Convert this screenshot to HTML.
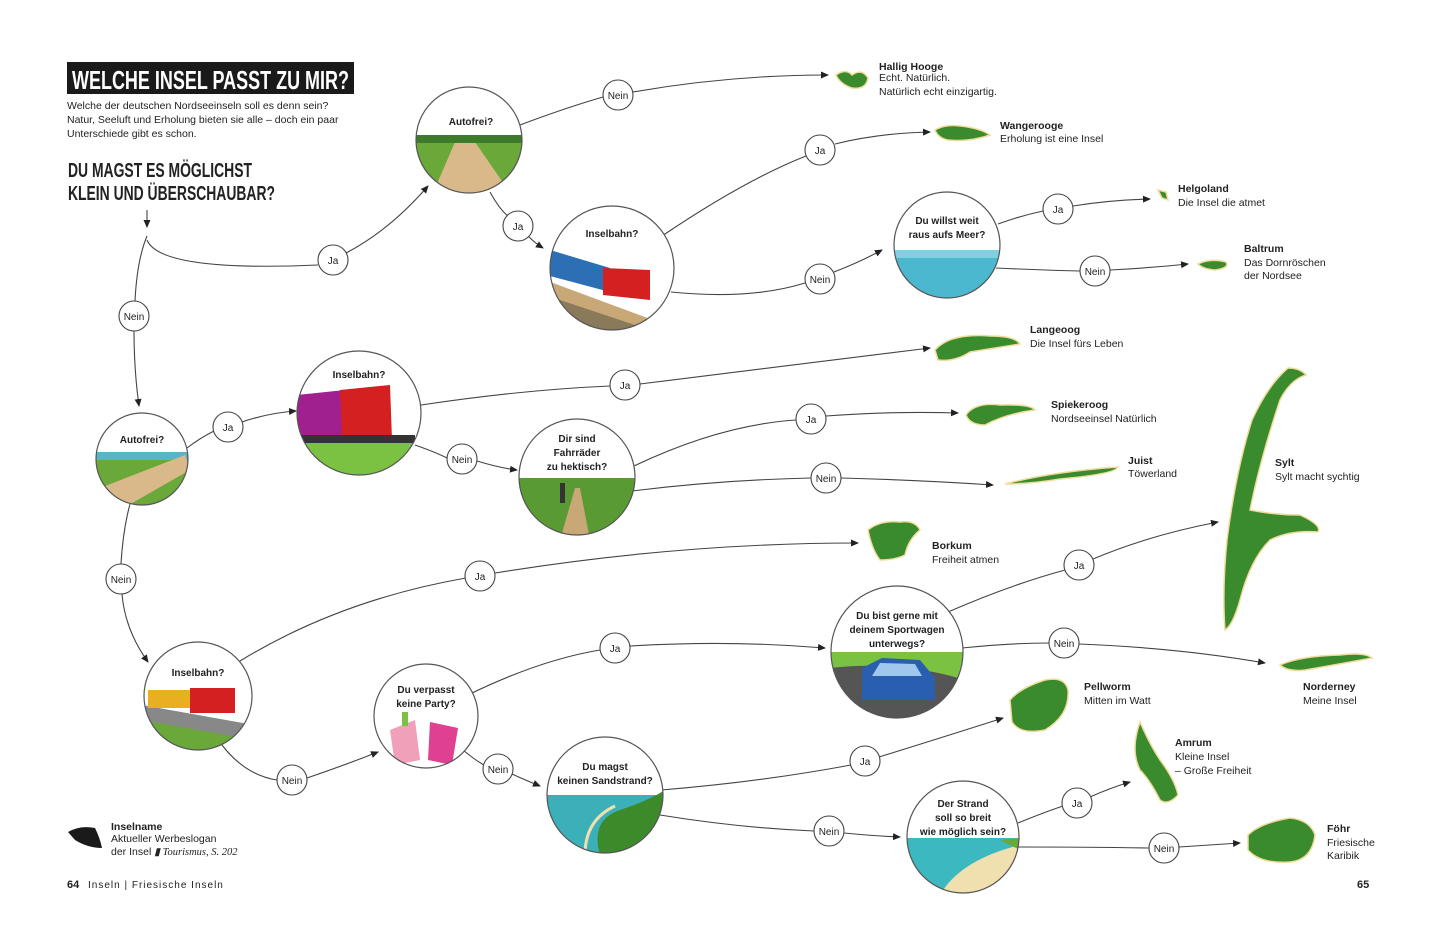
<!DOCTYPE html>
<html><head><meta charset="utf-8"><style>
html,body{margin:0;padding:0;background:#fff}
svg{display:block}
text{font-family:"Liberation Sans",sans-serif;fill:#222}
.t{font-size:10.5px}
.b{font-weight:bold}
.q{font-size:10px;font-weight:bold;text-anchor:middle}
.lbl{font-size:10px;text-anchor:middle}
.ln{fill:none;stroke:#444;stroke-width:1.1}
.lc{fill:#fff;stroke:#444;stroke-width:1.1}
.nc{stroke:#555;stroke-width:1.2}
</style></head><body>
<svg width="1440" height="925" viewBox="0 0 1440 925" xmlns="http://www.w3.org/2000/svg">
<defs>
<marker id="a" markerWidth="8" markerHeight="8" refX="7" refY="4" orient="auto" markerUnits="userSpaceOnUse"><path d="M0,0.5 L8,4 L0,7.5 z" fill="#222"/></marker>
<clipPath id="c1"><circle cx="469" cy="140" r="53"/></clipPath>
<clipPath id="c2"><circle cx="612" cy="268" r="62"/></clipPath>
<clipPath id="c3"><circle cx="947" cy="245" r="53"/></clipPath>
<clipPath id="c4"><circle cx="359" cy="413" r="62"/></clipPath>
<clipPath id="c5"><circle cx="142" cy="459" r="46"/></clipPath>
<clipPath id="c6"><circle cx="577" cy="477" r="58"/></clipPath>
<clipPath id="c7"><circle cx="198" cy="696" r="54"/></clipPath>
<clipPath id="c8"><circle cx="426" cy="716" r="52"/></clipPath>
<clipPath id="c9"><circle cx="897" cy="652" r="66"/></clipPath>
<clipPath id="c10"><circle cx="605" cy="795" r="58"/></clipPath>
<clipPath id="c11"><circle cx="963" cy="837" r="56"/></clipPath>
</defs>
<rect width="1440" height="925" fill="#fff"/>

<!-- Title -->
<rect x="67" y="62" width="287" height="32" fill="#1a1a1a"/>
<text x="72" y="89" style="font-size:26px;font-weight:bold;fill:#fff" textLength="277" lengthAdjust="spacingAndGlyphs">WELCHE INSEL PASST ZU MIR?</text>
<text class="t" x="67" y="109">Welche der deutschen Nordseeinseln soll es denn sein?</text>
<text class="t" x="67" y="123">Natur, Seeluft und Erholung bieten sie alle – doch ein paar</text>
<text class="t" x="67" y="137">Unterschiede gibt es schon.</text>
<text x="68" y="177" style="font-size:20px;font-weight:bold" textLength="184" lengthAdjust="spacingAndGlyphs">DU MAGST ES MÖGLICHST</text>
<text x="68" y="200" style="font-size:20px;font-weight:bold" textLength="207" lengthAdjust="spacingAndGlyphs">KLEIN UND ÜBERSCHAUBAR?</text>

<!-- connectors -->
<g class="ln">
<path d="M147,210 L147,227" marker-end="url(#a)"/>
<path d="M147,236 Q137,260 135,301"/>
<path d="M134,331 Q134,370 139,406" marker-end="url(#a)"/>
<path d="M147,240 Q160,272 318,265"/>
<path d="M346,253 Q390,230 428,186" marker-end="url(#a)"/>
<path d="M520,125 Q565,108 603,97"/>
<path d="M633,92 Q730,75 828,75" marker-end="url(#a)"/>
<path d="M490,192 Q500,210 508,216"/>
<path d="M528,236 Q535,243 543,248" marker-end="url(#a)"/>
<path d="M662,236 Q745,180 806,156"/>
<path d="M835,144 Q880,133 930,132" marker-end="url(#a)"/>
<path d="M671,292 Q750,300 805,283"/>
<path d="M834,272 Q860,262 882,250" marker-end="url(#a)"/>
<path d="M998,224 Q1020,216 1043,211"/>
<path d="M1073,206 Q1110,200 1150,199" marker-end="url(#a)"/>
<path d="M996,268 Q1040,270 1080,271"/>
<path d="M1110,270 Q1150,268 1188,264" marker-end="url(#a)"/>
<path d="M187,448 Q200,438 214,431"/>
<path d="M242,422 Q268,413 296,411" marker-end="url(#a)"/>
<path d="M421,405 Q520,390 610,386"/>
<path d="M640,384 Q790,365 930,348" marker-end="url(#a)"/>
<path d="M415,445 Q435,452 447,458"/>
<path d="M477,461 Q500,468 517,470" marker-end="url(#a)"/>
<path d="M634,466 Q720,425 796,420"/>
<path d="M826,416 Q890,411 958,413" marker-end="url(#a)"/>
<path d="M632,491 Q720,480 811,478"/>
<path d="M841,478 Q920,480 993,485" marker-end="url(#a)"/>
<path d="M130,504 Q123,530 121,564"/>
<path d="M122,594 Q125,630 148,662" marker-end="url(#a)"/>
<path d="M240,661 Q340,600 466,578"/>
<path d="M495,573 Q680,543 858,543" marker-end="url(#a)"/>
<path d="M222,745 Q245,775 277,780"/>
<path d="M307,778 Q345,765 378,752" marker-end="url(#a)"/>
<path d="M470,694 Q540,660 600,650"/>
<path d="M630,646 Q730,640 825,648" marker-end="url(#a)"/>
<path d="M463,750 Q475,760 484,765"/>
<path d="M512,774 Q525,780 540,786" marker-end="url(#a)"/>
<path d="M948,612 Q1010,585 1065,570"/>
<path d="M1093,559 Q1150,535 1218,522" marker-end="url(#a)"/>
<path d="M962,648 Q1010,643 1049,643"/>
<path d="M1079,644 Q1180,648 1265,663" marker-end="url(#a)"/>
<path d="M661,790 Q760,782 851,765"/>
<path d="M879,757 Q950,735 1003,718" marker-end="url(#a)"/>
<path d="M660,815 Q740,828 814,831"/>
<path d="M844,833 Q875,836 900,837" marker-end="url(#a)"/>
<path d="M1018,823 Q1045,812 1063,806"/>
<path d="M1090,797 Q1110,788 1130,782" marker-end="url(#a)"/>
<path d="M1018,847 Q1090,847 1149,848"/>
<path d="M1179,847 Q1210,845 1240,843" marker-end="url(#a)"/>
</g>

<!-- label circles -->
<g>
<circle class="lc" cx="618" cy="95" r="15"/><text class="lbl" x="618" y="99">Nein</text>
<circle class="lc" cx="820" cy="150" r="15"/><text class="lbl" x="820" y="154">Ja</text>
<circle class="lc" cx="518" cy="226" r="15"/><text class="lbl" x="518" y="230">Ja</text>
<circle class="lc" cx="333" cy="260" r="15"/><text class="lbl" x="333" y="264">Ja</text>
<circle class="lc" cx="134" cy="316" r="15"/><text class="lbl" x="134" y="320">Nein</text>
<circle class="lc" cx="1058" cy="209" r="15"/><text class="lbl" x="1058" y="213">Ja</text>
<circle class="lc" cx="820" cy="279" r="15"/><text class="lbl" x="820" y="283">Nein</text>
<circle class="lc" cx="1095" cy="271" r="15"/><text class="lbl" x="1095" y="275">Nein</text>
<circle class="lc" cx="625" cy="385" r="15"/><text class="lbl" x="625" y="389">Ja</text>
<circle class="lc" cx="228" cy="427" r="15"/><text class="lbl" x="228" y="431">Ja</text>
<circle class="lc" cx="462" cy="459" r="15"/><text class="lbl" x="462" y="463">Nein</text>
<circle class="lc" cx="811" cy="419" r="15"/><text class="lbl" x="811" y="423">Ja</text>
<circle class="lc" cx="826" cy="478" r="15"/><text class="lbl" x="826" y="482">Nein</text>
<circle class="lc" cx="121" cy="579" r="15"/><text class="lbl" x="121" y="583">Nein</text>
<circle class="lc" cx="480" cy="576" r="15"/><text class="lbl" x="480" y="580">Ja</text>
<circle class="lc" cx="1079" cy="565" r="15"/><text class="lbl" x="1079" y="569">Ja</text>
<circle class="lc" cx="615" cy="648" r="15"/><text class="lbl" x="615" y="652">Ja</text>
<circle class="lc" cx="1064" cy="643" r="15"/><text class="lbl" x="1064" y="647">Nein</text>
<circle class="lc" cx="292" cy="780" r="15"/><text class="lbl" x="292" y="784">Nein</text>
<circle class="lc" cx="498" cy="769" r="15"/><text class="lbl" x="498" y="773">Nein</text>
<circle class="lc" cx="865" cy="761" r="15"/><text class="lbl" x="865" y="765">Ja</text>
<circle class="lc" cx="829" cy="831" r="15"/><text class="lbl" x="829" y="835">Nein</text>
<circle class="lc" cx="1077" cy="803" r="15"/><text class="lbl" x="1077" y="807">Ja</text>
<circle class="lc" cx="1164" cy="848" r="15"/><text class="lbl" x="1164" y="852">Nein</text>
</g>

<!-- Node 1 Autofrei top -->
<g clip-path="url(#c1)"><rect x="410" y="80" width="120" height="120" fill="#fff"/>
<rect x="410" y="138" width="120" height="70" fill="#6aa83a"/>
<path d="M455,142 L475,142 L515,200 L430,200 Z" fill="#d9b98a"/>
<rect x="410" y="135" width="120" height="8" fill="#3d7a2a"/></g>
<circle class="nc" cx="469" cy="140" r="53" fill="none"/>
<text class="q" x="471" y="125">Autofrei?</text>

<!-- Node 2 Inselbahn -->
<g clip-path="url(#c2)"><rect x="545" y="200" width="135" height="135" fill="#fff"/>
<path d="M545,280 L680,330 L680,340 L545,340 Z" fill="#c9a878"/>
<path d="M550,250 L610,268 L610,292 L550,276 Z" fill="#2d6fb5"/>
<path d="M603,268 L650,270 L650,300 L603,295 Z" fill="#d42020"/>
<path d="M545,295 L680,340 L545,340Z" fill="#8a7a5a"/></g>
<circle class="nc" cx="612" cy="268" r="62" fill="none"/>
<text class="q" x="612" y="237">Inselbahn?</text>

<!-- Node 3 Meer -->
<g clip-path="url(#c3)"><rect x="890" y="190" width="115" height="110" fill="#fff"/>
<rect x="890" y="250" width="115" height="50" fill="#4bb8d0"/>
<rect x="890" y="250" width="115" height="8" fill="#7fd0e0"/></g>
<circle class="nc" cx="947" cy="245" r="53" fill="none"/>
<text class="q" x="947" y="224">Du willst weit</text>
<text class="q" x="947" y="238">raus aufs Meer?</text>

<!-- Node 4 Inselbahn mid -->
<g clip-path="url(#c4)"><rect x="295" y="350" width="130" height="130" fill="#fff"/>
<path d="M295,440 Q360,430 425,445 L425,480 L295,480Z" fill="#7cc242"/>
<path d="M297,395 L345,390 L345,435 L297,435Z" fill="#a0208f"/>
<path d="M340,390 L390,385 L392,440 L342,438Z" fill="#d42020"/>
<rect x="295" y="435" width="120" height="8" fill="#333"/></g>
<circle class="nc" cx="359" cy="413" r="62" fill="none"/>
<text class="q" x="359" y="378">Inselbahn?</text>

<!-- Node 5 Autofrei left -->
<g clip-path="url(#c5)"><rect x="95" y="412" width="95" height="95" fill="#fff"/>
<rect x="95" y="452" width="95" height="60" fill="#6aa83a"/>
<rect x="95" y="452" width="95" height="8" fill="#5ab4c8"/>
<path d="M95,490 L185,455 L190,470 L120,510 L95,510Z" fill="#d9b98a"/></g>
<circle class="nc" cx="142" cy="459" r="46" fill="none"/>
<text class="q" x="142" y="443">Autofrei?</text>

<!-- Node 6 Fahrräder -->
<g clip-path="url(#c6)"><rect x="518" y="418" width="120" height="120" fill="#fff"/>
<rect x="518" y="478" width="120" height="60" fill="#5a9a32"/>
<path d="M560,540 L575,488 L580,488 L590,540Z" fill="#c9a878"/>
<rect x="560" y="483" width="5" height="20" fill="#333"/></g>
<circle class="nc" cx="577" cy="477" r="58" fill="none"/>
<text class="q" x="577" y="442">Dir sind</text>
<text class="q" x="577" y="456">Fahrräder</text>
<text class="q" x="577" y="470">zu hektisch?</text>

<!-- Node 7 Inselbahn lower -->
<g clip-path="url(#c7)"><rect x="142" y="640" width="112" height="112" fill="#fff"/>
<path d="M142,715 L254,730 L254,752 L142,752Z" fill="#6aa83a"/>
<path d="M142,705 L254,725 L254,740 L142,720Z" fill="#888"/>
<rect x="148" y="690" width="45" height="18" fill="#e8b020"/>
<rect x="190" y="688" width="45" height="25" fill="#d42020"/></g>
<circle class="nc" cx="198" cy="696" r="54" fill="none"/>
<text class="q" x="198" y="676">Inselbahn?</text>

<!-- Node 8 Party -->
<g clip-path="url(#c8)"><rect x="372" y="662" width="110" height="110" fill="#fff"/>
<path d="M390,730 L415,720 L420,760 L395,765Z" fill="#f0a0b8"/>
<path d="M430,722 L458,728 L452,765 L428,760Z" fill="#e04090"/>
<rect x="402" y="712" width="6" height="14" fill="#7cc242"/></g>
<circle class="nc" cx="426" cy="716" r="52" fill="none"/>
<text class="q" x="426" y="693">Du verpasst</text>
<text class="q" x="426" y="707">keine Party?</text>

<!-- Node 9 Sportwagen -->
<g clip-path="url(#c9)"><rect x="830" y="585" width="135" height="135" fill="#fff"/>
<rect x="830" y="652" width="135" height="70" fill="#7cc242"/>
<path d="M830,668 Q900,660 965,680 L965,720 L830,720Z" fill="#555"/>
<path d="M862,668 L882,658 L920,660 L935,678 L935,700 L862,700Z" fill="#2a5fb0"/>
<path d="M880,663 L915,664 L922,676 L872,676Z" fill="#a0c8ec"/></g>
<circle class="nc" cx="897" cy="652" r="66" fill="none"/>
<text class="q" x="897" y="619">Du bist gerne mit</text>
<text class="q" x="897" y="633">deinem Sportwagen</text>
<text class="q" x="897" y="647">unterwegs?</text>

<!-- Node 10 Sandstrand -->
<g clip-path="url(#c10)"><rect x="545" y="735" width="120" height="120" fill="#fff"/>
<rect x="545" y="795" width="120" height="60" fill="#3bb0b8"/>
<path d="M600,855 Q590,820 620,810 Q650,800 665,790 L665,855Z" fill="#3d8a2a"/>
<path d="M585,855 Q585,820 615,806" stroke="#f0e0b0" stroke-width="3" fill="none"/></g>
<circle class="nc" cx="605" cy="795" r="58" fill="none"/>
<text class="q" x="605" y="770">Du magst</text>
<text class="q" x="605" y="784">keinen Sandstrand?</text>

<!-- Node 11 Strand -->
<g clip-path="url(#c11)"><rect x="905" y="780" width="115" height="115" fill="#fff"/>
<rect x="905" y="838" width="115" height="60" fill="#3cb8c0"/>
<path d="M940,895 Q960,860 1020,845 L1020,895Z" fill="#f0e0b0"/>
<path d="M1000,840 L1020,838 L1020,850Z" fill="#6aa83a"/></g>
<circle class="nc" cx="963" cy="837" r="56" fill="none"/>
<text class="q" x="963" y="807">Der Strand</text>
<text class="q" x="963" y="821">soll so breit</text>
<text class="q" x="963" y="835">wie möglich sein?</text>

<!-- Islands -->
<g fill="#3a8a2e" stroke="#f0dc9a" stroke-width="1.5">
<path d="M836,75 Q846,68 852,75 Q862,68 868,78 Q866,90 852,88 Q840,84 836,75Z"/>
<path d="M935,130 Q945,124 960,126 Q980,128 990,135 Q970,142 948,140 Q938,138 935,130Z"/>
<path d="M1158,190 L1166,192 L1168,200 L1162,198Z"/>
<path d="M1198,264 Q1210,258 1226,262 Q1230,268 1215,270 Q1203,269 1198,264Z"/>
<path d="M935,350 Q950,333 990,336 Q1015,336 1020,344 Q995,348 970,352 Q955,362 938,360Z"/>
<path d="M966,415 Q975,402 1000,405 Q1030,404 1035,410 Q1005,414 985,425 Q970,425 966,415Z"/>
<path d="M1005,484 Q1050,472 1118,467 Q1115,474 1060,479 Q1030,484 1005,484Z"/>
<path d="M868,530 Q880,520 900,522 Q915,520 920,530 Q908,540 905,555 Q895,560 880,560 Q872,550 868,530Z"/>
<path d="M1288,368 Q1300,368 1306,375 Q1290,380 1280,400 Q1260,460 1250,510 Q1275,515 1300,515 Q1322,525 1318,532 Q1290,530 1270,540 Q1250,560 1240,600 Q1233,625 1225,630 Q1222,590 1227,540 Q1236,470 1252,420 Q1268,385 1288,368Z"/>
<path d="M1280,665 Q1300,656 1340,655 Q1365,652 1372,658 Q1340,664 1305,670 Q1288,672 1280,665Z"/>
<path d="M1010,700 Q1020,688 1045,680 Q1065,676 1068,690 Q1070,715 1045,730 Q1020,735 1012,722Z"/>
<path d="M1140,722 Q1150,745 1160,760 Q1175,780 1178,795 Q1168,806 1160,800 Q1150,780 1140,770 Q1130,750 1140,722Z"/>
<path d="M1248,835 Q1260,823 1290,818 Q1310,820 1315,835 Q1312,860 1290,862 Q1260,864 1248,850Z"/>
<path d="M68,832 Q80,825 95,828 Q100,838 102,848 Q88,848 75,840Z" fill="#1a1a1a" stroke="none"/>
</g>

<!-- Island labels -->
<g class="t">
<text x="879" y="70" class="b">Hallig Hooge</text><text x="879" y="81">Echt. Natürlich.</text><text x="879" y="95">Natürlich echt einzigartig.</text>
<text x="1000" y="129" class="b">Wangerooge</text><text x="1000" y="142">Erholung ist eine Insel</text>
<text x="1178" y="192" class="b">Helgoland</text><text x="1178" y="206">Die Insel die atmet</text>
<text x="1244" y="252" class="b">Baltrum</text><text x="1244" y="266">Das Dornröschen</text><text x="1244" y="279">der Nordsee</text>
<text x="1030" y="333" class="b">Langeoog</text><text x="1030" y="347">Die Insel fürs Leben</text>
<text x="1051" y="408" class="b">Spiekeroog</text><text x="1051" y="422">Nordseeinsel Natürlich</text>
<text x="1128" y="464" class="b">Juist</text><text x="1128" y="477">Töwerland</text>
<text x="1275" y="466" class="b">Sylt</text><text x="1275" y="480">Sylt macht sychtig</text>
<text x="932" y="549" class="b">Borkum</text><text x="932" y="563">Freiheit atmen</text>
<text x="1084" y="690" class="b">Pellworm</text><text x="1084" y="704">Mitten im Watt</text>
<text x="1303" y="690" class="b">Norderney</text><text x="1303" y="704">Meine Insel</text>
<text x="1175" y="746" class="b">Amrum</text><text x="1175" y="760">Kleine Insel</text><text x="1175" y="774">– Große Freiheit</text>
<text x="1327" y="832" class="b">Föhr</text><text x="1327" y="846">Friesische</text><text x="1327" y="859">Karibik</text>
<text x="111" y="830" class="b">Inselname</text><text x="111" y="842">Aktueller Werbeslogan</text>
<text x="111" y="855">der Insel <tspan style="font-family:'Liberation Serif',serif;font-style:italic">▮ Tourismus, S. 202</tspan></text>
</g>
<text x="67" y="888" style="font-size:11px;font-weight:bold">64</text>
<text x="88" y="888" style="font-size:10px;letter-spacing:1px">Inseln | Friesische Inseln</text>
<text x="1357" y="888" style="font-size:11px;font-weight:bold">65</text>
</svg>
</body></html>
